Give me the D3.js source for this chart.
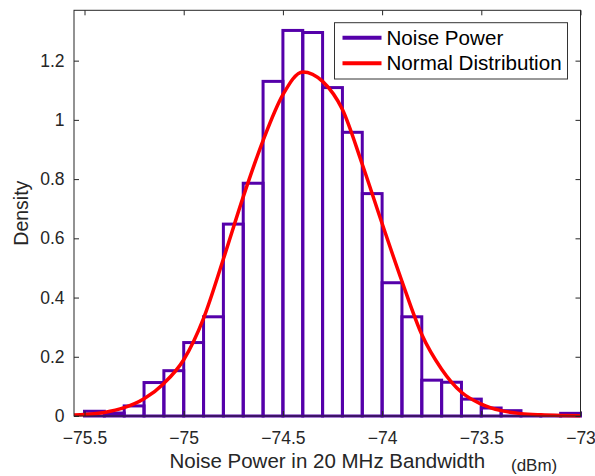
<!DOCTYPE html>
<html>
<head>
<meta charset="utf-8">
<script src="https://cdn.jsdelivr.net/npm/d3@7"></script>
<style>
  body { margin: 0; background: #fff; }
  text { font-family: "Liberation Sans", Arial, sans-serif; fill: #262626; }
</style>
</head>
<body>
<div id="chart"></div>
<script>
// histogram bins (left edge, width 0.1 dBm) and density
var binStarts = [-75.5, -75.4, -75.3, -75.2, -75.1, -75.0, -74.9, -74.8, -74.7, -74.6,
                 -74.5, -74.4, -74.3, -74.2, -74.1, -74.0, -73.9, -73.8, -73.7, -73.6,
                 -73.5, -73.4, -73.3, -73.2, -73.1];
var binDensity = [0.016, 0.010, 0.034, 0.113, 0.153, 0.248, 0.335, 0.648, 0.786, 1.13,
                  1.302, 1.295, 1.109, 0.958, 0.751, 0.45, 0.335, 0.121, 0.114, 0.057,
                  0.027, 0.018, 0.003, 0.002, 0.009];
var binWidth = 0.1;

// fitted normal curve
var curveX = [-75.553, -75.5, -75.4, -75.3, -75.2, -75.1, -75.0, -74.9, -74.8, -74.7,
              -74.6, -74.5, -74.4, -74.3, -74.2, -74.1, -74.0, -73.9, -73.8, -73.7,
              -73.6, -73.5, -73.4, -73.3, -73.2, -73.1, -73.0];
var curveY = [0.003, 0.005, 0.012, 0.028, 0.058, 0.11, 0.19, 0.33, 0.53, 0.74,
              0.93, 1.085, 1.162, 1.13, 1.035, 0.85, 0.65, 0.455, 0.275, 0.158,
              0.08, 0.04, 0.018, 0.008, 0.004, 0.002, 0.001];

var xTicks = [-75.5, -75, -74.5, -74, -73.5, -73];
var yTicks = [0, 0.2, 0.4, 0.6, 0.8, 1, 1.2];
var seriesNames = ["Noise Power", "Normal Distribution"];
var seriesColors = ["#5500aa", "#ff0000"];

var W = 595, H = 476;
var margin = {top: 10.3, right: 14.5, bottom: 60, left: 74};
var width = W - margin.left - margin.right,
    height = H - margin.top - margin.bottom;

var svg = d3.select("#chart").append("svg")
    .attr("width", W)
    .attr("height", H);

var g = svg.append("g")
    .attr("transform", "translate(" + margin.left + "," + margin.top + ")");

var x = d3.scaleLinear().domain([-75.553, -73]).range([0, width]);
var y = d3.scaleLinear().domain([0, 1.37]).range([height, 0]);

// bars (outline only)
g.selectAll(".bar")
  .data(binStarts)
  .enter().append("rect")
    .attr("class", "bar")
    .attr("x", function(d) { return x(d); })
    .attr("width", function(d) { return x(d + binWidth) - x(d); })
    .attr("y", function(d, i) { return y(binDensity[i]); })
    .attr("height", function(d, i) { return y(0) - y(binDensity[i]); })
    .attr("fill", "none")
    .attr("stroke", seriesColors[0])
    .attr("stroke-width", 3);

// normal curve
var pts = curveX.map(function(v, i) { return [v, curveY[i]]; });
g.append("path")
  .datum(pts)
  .attr("fill", "none")
  .attr("stroke", seriesColors[1])
  .attr("stroke-width", 3.5)
  .attr("stroke-linejoin", "round")
  .attr("d", d3.line()
      .x(function(d) { return x(d[0]); })
      .y(function(d) { return y(d[1]); })
      .curve(d3.curveMonotoneX));

// axes, ticks pointing inward on all four sides
var fmt = d3.format("");
var xAxis = d3.axisBottom(x).tickValues(xTicks).tickFormat(fmt).tickSizeInner(-5).tickSizeOuter(0).tickPadding(15.5);
var yAxis = d3.axisLeft(y).tickValues(yTicks).tickFormat(fmt).tickSizeInner(-5).tickSizeOuter(0).tickPadding(9.5);
var xTop = d3.axisTop(x).tickValues(xTicks).tickFormat("").tickSizeInner(-5).tickSizeOuter(0);
var yRight = d3.axisRight(y).tickValues(yTicks).tickFormat("").tickSizeInner(-5).tickSizeOuter(0);

function styleAxis(sel) {
  sel.select(".domain").remove();
  sel.selectAll("line").attr("stroke", "#262626");
  sel.selectAll("text").style("font-size", "17.5px").attr("fill", "#262626");
}

g.append("g").attr("transform", "translate(0," + height + ")").call(xAxis).call(styleAxis);
g.append("g").call(yAxis).call(styleAxis);
g.append("g").call(xTop).call(styleAxis);
g.append("g").attr("transform", "translate(" + width + ",0)").call(yRight).call(styleAxis);

g.append("rect")
  .attr("width", width)
  .attr("height", height)
  .attr("fill", "none")
  .attr("stroke", "#262626")
  .attr("stroke-width", 1);

// axis labels
g.append("text")
  .attr("x", width / 2)
  .attr("y", height + 52)
  .attr("text-anchor", "middle")
  .style("font-size", "20.5px")
  .text("Noise Power in 20 MHz Bandwidth");

g.append("text")
  .attr("x", 437)
  .attr("y", height + 55)
  .style("font-size", "17px")
  .text("(dBm)");

svg.append("text")
  .attr("transform", "translate(28," + (margin.top + height / 2) + ") rotate(-90)")
  .attr("text-anchor", "middle")
  .style("font-size", "19.5px")
  .text("Density");

// legend
var leg = svg.append("g").attr("transform", "translate(334.5,22.7)");
leg.append("rect")
  .attr("width", 233)
  .attr("height", 56.3)
  .attr("fill", "#fff")
  .attr("stroke", "#333")
  .attr("stroke-width", 1);

seriesNames.forEach(function(name, i) {
  var ly = 15 + i * 25.6;
  leg.append("line")
    .attr("x1", 8).attr("x2", 47)
    .attr("y1", ly).attr("y2", ly)
    .attr("stroke", seriesColors[i])
    .attr("stroke-width", 4);
  leg.append("text")
    .attr("x", 52)
    .attr("y", ly + 7.2)
    .style("font-size", "20.6px")
    .style("fill", "#000")
    .text(name);
});
</script>
</body>
</html>
